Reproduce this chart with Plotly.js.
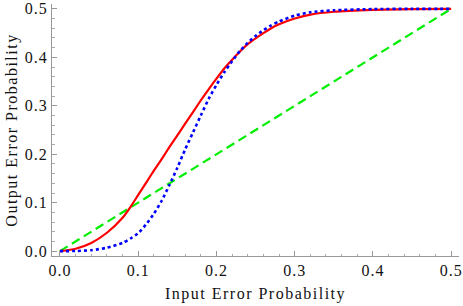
<!DOCTYPE html>
<html>
<head>
<meta charset="utf-8">
<script src="https://cdn.plot.ly/plotly-3.0.1.min.js"></script>
<style>
html,body{margin:0;padding:0;background:#fff;}
#chart{width:463px;height:306px;}
#chart .xtitle, #chart .ytitle{letter-spacing:1.5px;}
#chart .xtick text, #chart .ytick text{letter-spacing:1px;}
</style>
</head>
<body>
<div id="chart"></div>
<script>
// Input error probability grid (shared by both curves)
var xInput = [0, 0.02, 0.04, 0.06, 0.08, 0.09, 0.10, 0.11, 0.12, 0.13, 0.14, 0.15, 0.16, 0.17, 0.18, 0.19, 0.20, 0.21, 0.22, 0.23, 0.24, 0.25, 0.26, 0.27, 0.28, 0.30, 0.32, 0.35, 0.40, 0.45, 0.50];
// Red solid curve
var redOutput = [0, 0.005, 0.017, 0.038, 0.069, 0.091, 0.116, 0.141, 0.166, 0.190, 0.215, 0.239, 0.263, 0.287, 0.311, 0.334, 0.356, 0.377, 0.395, 0.412, 0.427, 0.439, 0.450, 0.460, 0.468, 0.480, 0.488, 0.494, 0.498, 0.4995, 0.5];
// Blue dotted curve
var blueOutput = [0, 0.0003, 0.002, 0.007, 0.017, 0.026, 0.037, 0.055, 0.077, 0.104, 0.137, 0.172, 0.210, 0.245, 0.280, 0.314, 0.343, 0.369, 0.392, 0.413, 0.430, 0.444, 0.456, 0.466, 0.474, 0.486, 0.493, 0.497, 0.4995, 0.5, 0.5];
// Green dashed reference line
var greenX = [0, 0.5];
var greenY = [0, 0.5];
var tickVals = [0, 0.1, 0.2, 0.3, 0.4, 0.5];
var tickText = ["0.0", "0.1", "0.2", "0.3", "0.4", "0.5"];

var traces = [
  {x: greenX, y: greenY, mode: 'lines', line: {color: '#00ee00', width: 2.2, dash: '9px,5px'}, hoverinfo: 'none'},
  {x: xInput, y: redOutput, mode: 'lines', line: {color: '#ff0000', width: 2.2, shape: 'spline', smoothing: 0.6}, hoverinfo: 'none'},
  {x: xInput, y: blueOutput, mode: 'lines', line: {color: '#0000ff', width: 2.6, dash: 'dot', shape: 'spline', smoothing: 0.6}, hoverinfo: 'none'}
];

var serif = 'Liberation Serif, Times New Roman, serif';
var axisCommon = {
  showgrid: false, zeroline: false, showline: true, linecolor: '#999999', linewidth: 1,
  ticks: 'inside', ticklen: 5, tickcolor: '#999999', tickwidth: 1,
  tickvals: tickVals, ticktext: tickText,
  tickfont: {family: serif, size: 16, color: '#111111'},
  minor: {dtick: 0.02, tick0: 0, ticks: 'inside', ticklen: 2.5, tickcolor: '#aaaaaa', tickwidth: 1, showgrid: false},
  mirror: false, fixedrange: true
};

var layout = {
  width: 463, height: 306,
  margin: {l: 52, r: 4, t: 4, b: 50, pad: 0},
  paper_bgcolor: '#ffffff', plot_bgcolor: '#ffffff',
  showlegend: false,
  xaxis: Object.assign({}, axisCommon, {
    range: [-0.0102, 0.5100],
    title: {text: 'Input Error Probability', font: {family: serif, size: 16, color: '#111111'}, standoff: 9}
  }),
  yaxis: Object.assign({}, axisCommon, {
    range: [-0.0100, 0.5100],
    title: {text: 'Output Error Probability', font: {family: serif, size: 16, color: '#111111'}, standoff: 6}
  })
};

Plotly.newPlot('chart', traces, layout, {staticPlot: true, displayModeBar: false});
</script>
</body>
</html>
